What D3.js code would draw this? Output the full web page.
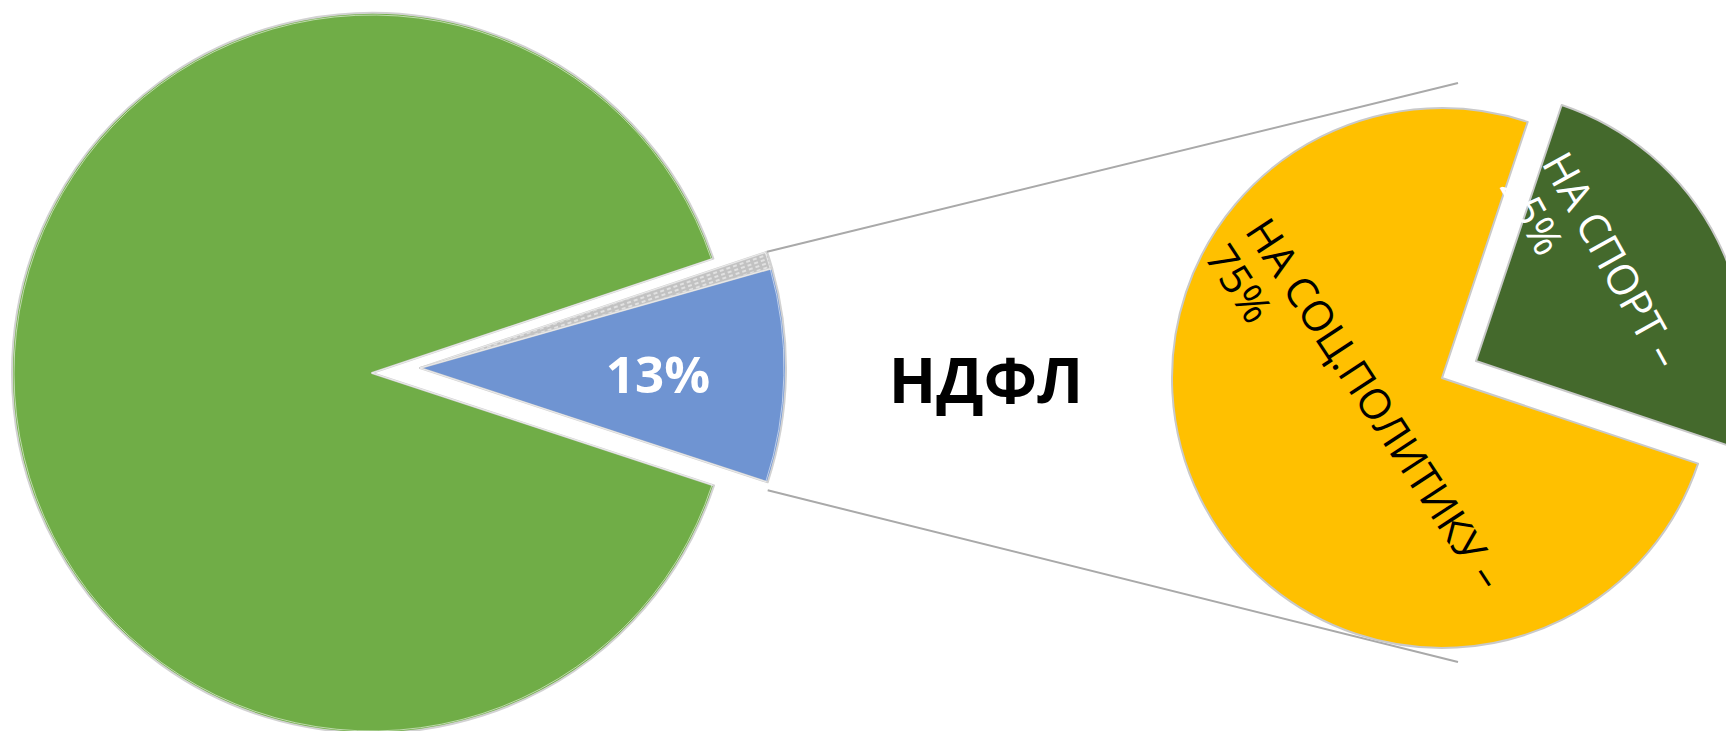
<!DOCTYPE html>
<html><head><meta charset="utf-8">
<script src="https://cdn.jsdelivr.net/npm/d3@7"></script>
<style>html,body{margin:0;padding:0;background:#fff;overflow:hidden}</style>
</head><body>
<svg id="chart" width="1726" height="731"></svg>
<script>
// ---- data ----
const leftCategories = ["Прочие поступления", "Прочее", "НДФЛ"];
const leftValues = [89.8, 0.75, 9.45];
const leftLabels = ["", "", "13%"];
const rightCategories = ["НА СОЦ.ПОЛИТИКУ –", "НА СПОРТ –"];
const rightValues = [75, 25];
const rightLabels = ["75%", "25%"];
const centerTitle = "НДФЛ";

// ---- styles / layout ----
const leftColors = ["#70AD47", "url(#hatch)", "#6F94D2"];
const rightColors = ["#FFC000", "#44692C"];
const deg = Math.PI / 180;
const FONT = "'Open Sans', 'DejaVu Sans', sans-serif";

const svg = d3.select("#chart");
const defs = svg.append("defs");
const pat = defs.append("pattern").attr("id", "hatch")
  .attr("patternUnits", "userSpaceOnUse").attr("width", 7).attr("height", 4)
  .attr("patternTransform", "rotate(-19)");
pat.append("rect").attr("width", 7).attr("height", 4).attr("fill", "#c2c2c2");
pat.append("line").attr("x1", 0).attr("y1", 2).attr("x2", 4).attr("y2", 2)
  .attr("stroke", "#f2f2f2").attr("stroke-width", 1.3);

// ---- left pie ----
const L = { cx: 372, cy: 373, r: 360, rExp: 366, explode: [48, -5] };
const leftStart = 108.2 * deg;
const leftPie = d3.pie().sort(null).value(d => d)
  .startAngle(leftStart).endAngle(leftStart + 2 * Math.PI);
const leftArcs = leftPie(leftValues);

const gL = svg.append("g");
leftArcs.forEach((a, i) => {
  const off = i === 0 ? [0, 0] : L.explode;
  const r = i === 0 ? L.r : L.rExp;
  const tr = `translate(${L.cx + off[0]},${L.cy + off[1]})`;
  gL.append("path")
    .attr("transform", tr)
    .attr("d", d3.arc().innerRadius(0).outerRadius(r)(a))
    .attr("fill", leftColors[i])
    .attr("stroke", "#d2d2d2").attr("stroke-width", 2)
    .attr("stroke-linejoin", "round");
  gL.append("path")
    .attr("transform", tr)
    .attr("d", d3.arc().innerRadius(0).outerRadius(r - 2)(a))
    .attr("fill", "none")
    .attr("stroke", "rgba(255,255,255,0.55)").attr("stroke-width", 1);
});

// label 13%
svg.append("text")
  .attr("x", 658).attr("y", 393)
  .attr("text-anchor", "middle")
  .attr("font-family", FONT).attr("font-weight", 700).attr("font-size", 51)
  .attr("fill", "#fff")
  .text(leftLabels[2]);

// ---- connector lines ----
const expC = [L.cx + L.explode[0], L.cy + L.explode[1]];
const topPt = [expC[0] + L.rExp * Math.sin(leftArcs[1].startAngle), expC[1] - L.rExp * Math.cos(leftArcs[1].startAngle)];
const botPt = [expC[0] + L.rExp * Math.sin(leftArcs[2].endAngle), expC[1] - L.rExp * Math.cos(leftArcs[2].endAngle) + 8];
const lineEnds = [[1458, 83], [1458, 662]];
[[topPt, lineEnds[0]], [botPt, lineEnds[1]]].forEach(([p, q]) => {
  svg.append("line")
    .attr("x1", p[0]).attr("y1", p[1]).attr("x2", q[0]).attr("y2", q[1])
    .attr("stroke", "#a9a9a9").attr("stroke-width", 2);
});

// center title
svg.append("text")
  .attr("x", 986).attr("y", 403)
  .attr("text-anchor", "middle")
  .attr("font-family", FONT).attr("font-weight", 700).attr("font-size", 62)
  .attr("fill", "#000")
  .text(centerTitle);

// ---- right pie ----
const R = { cx: 1442, cy: 378, r: 270, explode: 38 };
const rightStart = 108.5 * deg;
const rightPie = d3.pie().sort(null).value(d => d)
  .startAngle(rightStart).endAngle(rightStart + 2 * Math.PI);
const rightArcs = rightPie(rightValues);
const rightArc = d3.arc().innerRadius(0).outerRadius(R.r);
const gR = svg.append("g");
rightArcs.forEach((a, i) => {
  const mid = (a.startAngle + a.endAngle) / 2;
  const e = i === 1 ? R.explode : 0;
  const dx = e * Math.sin(mid), dy = -e * Math.cos(mid);
  gR.append("path")
    .attr("transform", `translate(${R.cx + dx},${R.cy + dy})`)
    .attr("d", rightArc(a))
    .attr("fill", rightColors[i])
    .attr("stroke", "#c9c9c9").attr("stroke-width", 2)
    .attr("stroke-linejoin", "round");
});

// rotated labels
const rightLabelPos = [
  { x: 1244, y: 231, rot: 56.8, color: "#000" },
  { x: 1541, y: 163, rot: 61, color: "#fff" }
];
rightCategories.forEach((c, i) => {
  const p = rightLabelPos[i];
  const t = svg.append("text")
    .attr("transform", `translate(${p.x},${p.y}) rotate(${p.rot})`)
    .attr("font-family", FONT).attr("font-size", 42)
    .attr("fill", p.color);
  t.append("tspan").attr("x", 0).attr("y", 0).text(c);
  t.append("tspan").attr("x", 0).attr("dy", 48).text(rightLabels[i]);
});
</script>
</body></html>
